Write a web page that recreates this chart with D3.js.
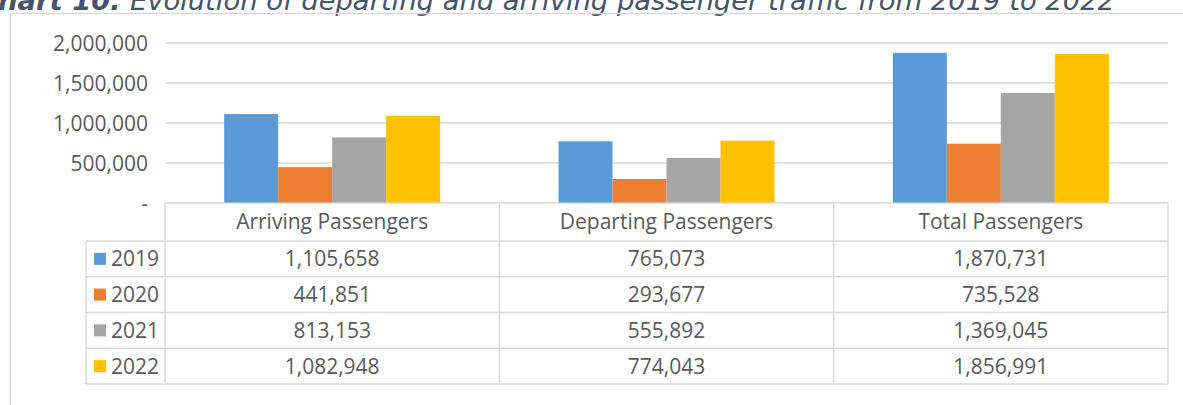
<!DOCTYPE html>
<html>
<head>
<meta charset="utf-8">
<script src="https://cdn.jsdelivr.net/npm/d3@7"></script>
<style>
  body { margin: 0; background: #fff; }
  svg { display: block; }
  text { font-family: "Open Sans", sans-serif; fill: #595959; }
</style>
</head>
<body>
<div id="graph"></div>
<script>
const categories = ["Arriving Passengers", "Departing Passengers", "Total Passengers"];
const years = ["2019", "2020", "2021", "2022"];
const values2019 = [1105658, 765073, 1870731];
const values2020 = [441851, 293677, 735528];
const values2021 = [813153, 555892, 1369045];
const values2022 = [1082948, 774043, 1856991];
const yTicks = [0, 500000, 1000000, 1500000, 2000000];
const colors = ["#5b9bd5", "#ed7d31", "#a5a5a5", "#ffc000"];
const titleBold = "Chart 10:";
const titleRest = " Evolution of departing and arriving passenger traffic from 2019 to 2022";

const series = [values2019, values2020, values2021, values2022];

const width = 1183, height = 405;
const plotLeft = 165, plotRight = 1168;
const legendLeft = 86;
const headerBottom = 241, rowH = 35.75;

const svg = d3.select("#graph")
	.append("svg")
	.attr("width", width)
	.attr("height", height);

// title, mostly cut off at the top (as in the source image)
const title = svg.append("text")
	.attr("x", -22)
	.attr("y", 10)
	.attr("textLength", 1137)
	.attr("lengthAdjust", "spacingAndGlyphs")
	.style("font-family", "'DejaVu Sans', sans-serif")
	.style("font-style", "italic")
	.style("font-weight", 200)
	.style("font-size", "26px")
	.style("fill", "#44546a");
title.append("tspan").style("font-weight", "bold").text(titleBold);
title.append("tspan").text(titleRest);

// chart frame
svg.append("path")
	.attr("d", "M10.5,405 L10.5,13.5 L1183,13.5")
	.attr("fill", "none")
	.attr("stroke", "#d9d9d9")
	.attr("stroke-width", 1.5);

const xScale = d3.scaleBand()
	.domain(categories)
	.range([plotLeft, plotRight]);

const bw = xScale.bandwidth();
const xInner = d3.scaleBand()
	.domain(years)
	.range([bw * 0.177, bw * 0.823]);

const yScale = d3.scaleLinear()
	.domain([0, 2000000])
	.range([202.5, 42.5]);

const yAxis = d3.axisLeft(yScale)
	.tickValues(yTicks)
	.tickSize(-(plotRight - plotLeft))
	.tickPadding(17)
	.tickFormat((d) => d === 0 ? "-" : d3.format(",")(d));

const gy = svg.append("g")
	.attr("transform", "translate(" + plotLeft + ",0)")
	.call(yAxis);
gy.select(".domain").remove();
gy.selectAll(".tick line").attr("stroke", "#d9d9d9").attr("stroke-width", 1.3);
gy.selectAll(".tick text")
	.style("font-size", "21px")
	.attr("fill", "#595959")
	.attr("font-family", null)
	.attr("dy", "0.36em");

// bars
const groups = svg.selectAll(".cat")
	.data(categories)
	.enter().append("g")
	.attr("class", "cat")
	.attr("transform", (d) => "translate(" + xScale(d) + ",0)");

groups.selectAll("rect")
	.data((c, i) => years.map((y, j) => ({year: y, value: series[j][i], color: colors[j]})))
	.enter().append("rect")
	.attr("x", (d) => xInner(d.year))
	.attr("width", xInner.bandwidth())
	.attr("y", (d) => yScale(d.value))
	.attr("height", (d) => yScale(0) - yScale(d.value))
	.attr("fill", (d) => d.color);

// data table
const table = svg.append("g");
const lineColor = "#d9d9d9";
const tableBottom = headerBottom + rowH * years.length;

// header row
table.append("path")
	.attr("d", "M" + plotLeft + "," + yScale(0) + " L" + plotLeft + "," + tableBottom)
	.attr("stroke", lineColor).attr("stroke-width", 1.5);
categories.forEach((c) => {
	const x1 = xScale(c) + bw;
	table.append("path")
		.attr("d", "M" + x1 + "," + yScale(0) + " L" + x1 + "," + tableBottom)
		.attr("stroke", lineColor).attr("stroke-width", 1.5);
	table.append("text")
		.attr("x", xScale(c) + bw / 2)
		.attr("y", (yScale(0) + headerBottom) / 2)
		.attr("dy", "0.36em")
		.attr("text-anchor", "middle")
		.style("font-size", "21px")
		.text(c);
});

// rows
table.append("path")
	.attr("d", "M" + legendLeft + "," + headerBottom + " L" + legendLeft + "," + tableBottom)
	.attr("stroke", lineColor).attr("stroke-width", 1.5);
d3.range(years.length + 1).forEach((i) => {
	const y = headerBottom + i * rowH;
	table.append("path")
		.attr("d", "M" + legendLeft + "," + y + " L" + plotRight + "," + y)
		.attr("stroke", lineColor).attr("stroke-width", 1.5);
});

years.forEach((yr, j) => {
	const cy = headerBottom + j * rowH + rowH / 2;
	table.append("rect")
		.attr("x", 94)
		.attr("y", cy - 6)
		.attr("width", 12)
		.attr("height", 12)
		.attr("fill", colors[j]);
	table.append("text")
		.attr("x", 111)
		.attr("y", cy)
		.attr("dy", "0.36em")
		.style("font-size", "21px")
		.text(yr);
	categories.forEach((c, i) => {
		table.append("text")
			.attr("x", xScale(c) + bw / 2)
			.attr("y", cy)
			.attr("dy", "0.36em")
			.attr("text-anchor", "middle")
			.style("font-size", "21px")
			.text(d3.format(",")(series[j][i]));
	});
});
</script>
</body>
</html>
